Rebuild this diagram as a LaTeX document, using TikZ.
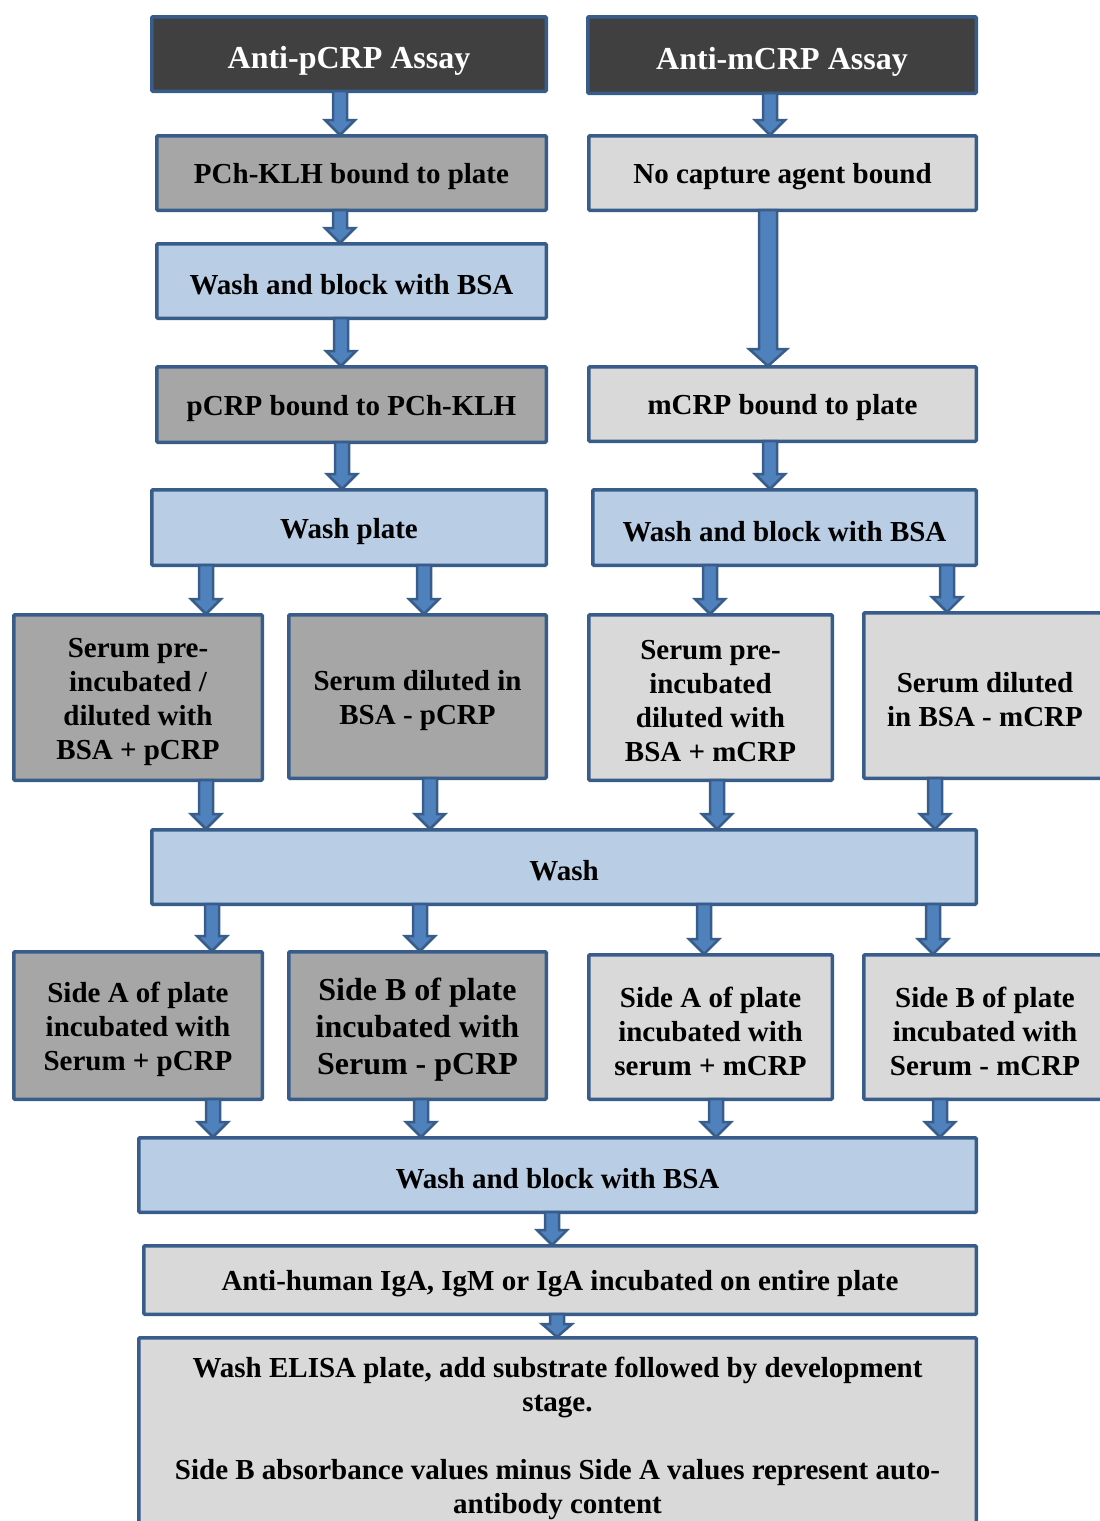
\documentclass[tikz,border=0pt]{standalone}
\usepackage{fontspec}
\setmainfont{Liberation Serif}
\usetikzlibrary{calc}
\definecolor{bord}{HTML}{385D8A}
\definecolor{hdr}{HTML}{404040}
\definecolor{gry}{HTML}{A6A6A6}
\definecolor{lgry}{HTML}{D9D9D9}
\definecolor{lblu}{HTML}{B9CDE5}
\definecolor{arr}{HTML}{4F81BD}
\tikzset{
  box/.style={draw=bord, line width=3.5pt, inner sep=0pt, rounded corners=1pt},
  darkbox/.style={box, fill=hdr},
  graybox/.style={box, fill=gry},
  lgraybox/.style={box, fill=lgry},
  bluebox/.style={box, fill=lblu},
  txt/.style={align=center, inner sep=0pt, yshift=-4pt,
    font=\fontsize{29}{34}\selectfont\bfseries},
  bigtxt/.style={txt, font=\fontsize{32}{37}\selectfont\bfseries},
  htxt/.style={txt, text=white, yshift=-2.5pt, font=\fontsize{32}{36}\selectfont\bfseries},
  arrst/.style={draw=bord, fill=arr, line width=2.5pt, line join=miter},
}
% \bx{boxstyle}{textstyle}{name}{x1}{y1}{x2}{y2}{text}
\newcommand{\bx}[8]{%
  \node[#1, minimum width={(#6-#4-3.5)*1pt}, minimum height={(#7-#5-3.5)*1pt}]
    (#3) at ({(#4+#6)/2},{-(#5+#7)/2}) {};
  \node[#2] (#3-t) at (#3.center) {#8};}
% \barrow{x}{from}{to}{shaft half}{head half}{head length}
\newcommand{\barrow}[6]{%
  \draw[arrst] let \p1=(#2.south), \p2=(#3.north) in
    ({#1pt-#4pt},{\y1+2pt}) -- ({#1pt-#4pt},{\y2+#6pt}) -- ({#1pt-#5pt},{\y2+#6pt})
    -- ({#1pt},{\y2-1pt}) -- ({#1pt+#5pt},{\y2+#6pt}) -- ({#1pt+#4pt},{\y2+#6pt})
    -- ({#1pt+#4pt},{\y1+2pt}) -- cycle;}
\begin{document}
\begin{tikzpicture}[x=1pt,y=1pt]
\useasboundingbox (0,0) rectangle (1100,-1521);
\bx{darkbox}{htxt}{h1}{150}{15}{548}{93}{Anti-pCRP Assay}
\bx{darkbox}{htxt}{h2}{586}{15}{978}{95}{Anti-mCRP Assay}
\bx{graybox}{txt}{p1}{155}{134}{548}{212}{PCh-KLH bound to plate}
\bx{lgraybox}{txt}{m1}{587}{134}{978}{212}{No capture agent bound}
\bx{bluebox}{txt}{p2}{155}{242}{548}{320}{Wash and block with BSA}
\bx{graybox}{txt}{p3}{155}{365}{548}{444}{pCRP bound to PCh-KLH}
\bx{lgraybox}{txt}{m3}{587}{365}{978}{443}{mCRP bound to plate}
\bx{bluebox}{txt}{p4}{150}{488}{548}{567}{Wash plate}
\bx{bluebox}{txt}{m4}{591}{488}{978}{567}{Wash and block with BSA}
\bx{graybox}{txt}{s1}{12}{613}{264}{782}{Serum pre-\\incubated /\\diluted with\\BSA + pCRP}
\bx{graybox}{txt}{s2}{287}{613}{548}{780}{Serum diluted in\\BSA - pCRP}
\bx{lgraybox}{txt}{s3}{587}{613}{834}{782}{Serum pre-\\incubated\\diluted with\\BSA + mCRP}
\bx{lgraybox}{txt}{s4}{862}{611}{1108}{780}{Serum diluted\\in BSA - mCRP}
\bx{bluebox}{txt}{w}{150}{828}{978}{906}{Wash}
\bx{graybox}{txt}{t1}{12}{950}{264}{1101}{Side A of plate\\incubated with\\Serum + pCRP}
\bx{graybox}{bigtxt}{t2}{287}{950}{548}{1101}{Side B of plate\\incubated with\\Serum - pCRP}
\bx{lgraybox}{txt}{t3}{587}{953}{834}{1101}{Side A of plate\\incubated with\\serum + mCRP}
\bx{lgraybox}{txt}{t4}{862}{953}{1108}{1101}{Side B of plate\\incubated with\\Serum - mCRP}
\bx{bluebox}{txt}{b1}{137}{1136}{978}{1214}{Wash and block with BSA}
\bx{lgraybox}{txt}{b2}{142}{1244}{978}{1316}{Anti-human IgA, IgM or IgA incubated on entire plate}
\bx{lgraybox}{txt}{b3}{137}{1336}{978}{1532}{Wash ELISA plate, add substrate followed by development\\stage.\\\mbox{}\\Side B absorbance values minus Side A values represent auto-\\antibody content}
% arrows
\barrow{340}{h1}{p1}{7}{15}{14}
\barrow{770}{h2}{m1}{7}{15}{14}
\barrow{340}{p1}{p2}{7}{15}{14}
\barrow{768}{m1}{m3}{9}{19}{16}
\barrow{341}{p2}{p3}{7}{15}{14}
\barrow{342}{p3}{p4}{7}{15}{14}
\barrow{770}{m3}{m4}{7}{15}{14}
\barrow{206}{p4}{s1}{7}{15}{14}
\barrow{424}{p4}{s2}{7}{15}{14}
\barrow{710}{m4}{s3}{7}{15}{14}
\barrow{947}{m4}{s4}{7}{15}{14}
\barrow{206}{s1}{w}{7}{15}{14}
\barrow{430}{s2}{w}{7}{15}{14}
\barrow{717}{s3}{w}{7}{15}{14}
\barrow{935}{s4}{w}{7}{15}{14}
\barrow{212}{w}{t1}{7}{15}{14}
\barrow{420}{w}{t2}{7}{15}{14}
\barrow{704}{w}{t3}{7}{15}{14}
\barrow{933}{w}{t4}{7}{15}{14}
\barrow{213}{t1}{b1}{7}{15}{14}
\barrow{421}{t2}{b1}{7}{15}{14}
\barrow{716}{t3}{b1}{7}{15}{14}
\barrow{940}{t4}{b1}{7}{15}{14}
\barrow{552}{b1}{b2}{7}{15}{14}
\barrow{557}{b2}{b3}{7}{15}{12}
\end{tikzpicture}
\end{document}
